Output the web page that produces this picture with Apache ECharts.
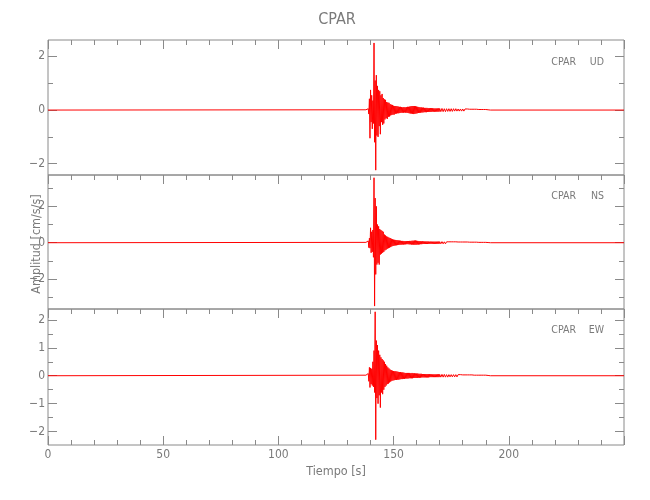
<!DOCTYPE html>
<html>
<head>
<meta charset="utf-8">
<script src="https://cdn.jsdelivr.net/npm/echarts@6/dist/echarts.min.js"></script>
<style>html,body{margin:0;padding:0;background:#fff}#c{width:650px;height:500px}</style>
</head>
<body>
<div id="c"></div>
<script>
// ---- data ----
const station = 'CPAR';
const components = ['UD', 'NS', 'EW'];
const timeStart = 0, timeEnd = 250;          // record span [s]
const burstStart = 138, burstStep = 0.25;    // strong-motion window: start, sample step [s]
const codaStart = 170.5, codaStep = 0.5;     // coda window: start, sample step [s]
const udBurst = [0.01,-0.02,0.02,-0.03,0.05,-0.15,0.42,-1.05,0.75,-0.45,
 0.55,-0.70,0.35,-0.50,2.50,-1.20,1.10,-2.24,1.30,-0.95,
 0.90,-1.00,0.75,-0.60,0.70,-0.90,0.55,-0.45,0.60,-0.55,
 0.45,-0.50,0.40,-0.35,0.38,-0.30,0.30,-0.33,0.28,-0.25,
 0.27,-0.24,0.22,-0.20,0.20,-0.18,0.19,-0.17,0.16,-0.17,
 0.15,-0.14,0.15,-0.13,0.14,-0.12,0.13,-0.12,0.12,-0.11,
 0.12,-0.10,0.11,-0.10,0.10,-0.10,0.11,-0.09,0.10,-0.10,
 0.11,-0.10,0.12,-0.11,0.12,-0.12,0.13,-0.13,0.14,-0.13,
 0.15,-0.14,0.15,-0.15,0.15,-0.14,0.14,-0.13,0.13,-0.12,
 0.12,-0.11,0.11,-0.10,0.10,-0.10,0.10,-0.09,0.09,-0.09,
 0.09,-0.08,0.08,-0.08,0.08,-0.08,0.08,-0.07,0.07,-0.07,
 0.07,-0.07,0.07,-0.07,0.07,-0.06,0.07,-0.06,0.06,-0.06,
 0.06,-0.06,0.06,-0.06,0.06,-0.06,0.06,-0.06,0.06];
const udCoda = [-0.06,0.06,-0.06,0.05,-0.06,0.05,-0.05,0.05,-0.05,0.05,
 -0.05,0.05,-0.04,0.05,-0.04,0.04,-0.04,0.04,-0.04,0.04,
 -0.04,0.04,-0.03,0.04,-0.03,0.03,-0.03,0.03,-0.03,0.03,
 -0.02,0.03,-0.02,0.02,-0.02,0.02,-0.02,0.02,-0.02,0.02,
 -0.01,0.01,-0.01,0.00];
const nsBurst = [0.02,-0.03,0.03,-0.04,0.10,-0.27,0.25,-0.30,0.82,-0.55,
 0.60,-0.50,0.70,-0.80,3.57,-3.48,2.45,-1.74,2.00,-1.20,
 1.00,-1.10,0.90,-1.20,0.75,-0.65,0.70,-0.60,0.65,-0.55,
 0.60,-0.50,0.45,-0.42,0.40,-0.38,0.35,-0.33,0.32,-0.30,
 0.28,-0.27,0.26,-0.24,0.22,-0.20,0.19,-0.18,0.17,-0.16,
 0.16,-0.15,0.15,-0.14,0.14,-0.13,0.13,-0.12,0.12,-0.11,
 0.11,-0.11,0.10,-0.10,0.10,-0.10,0.09,-0.09,0.09,-0.09,
 0.09,-0.08,0.09,-0.08,0.09,-0.09,0.10,-0.09,0.10,-0.10,
 0.11,-0.10,0.11,-0.11,0.12,-0.11,0.12,-0.11,0.11,-0.10,
 0.10,-0.10,0.09,-0.09,0.09,-0.08,0.08,-0.08,0.08,-0.07,
 0.07,-0.07,0.07,-0.07,0.07,-0.07,0.07,-0.07,0.07,-0.06,
 0.06,-0.06,0.06,-0.06,0.06,-0.06,0.06,-0.06,0.06,-0.06,
 0.06,-0.06,0.06,-0.06,0.06,-0.06,0.06,-0.06,0.06];
const nsCoda = [-0.06,0.06,-0.06,0.05,-0.06,0.05,-0.05,0.05,-0.05,0.05,
 -0.05,0.05,-0.04,0.05,-0.04,0.04,-0.04,0.04,-0.04,0.04,
 -0.04,0.04,-0.03,0.04,-0.03,0.03,-0.03,0.03,-0.03,0.03,
 -0.02,0.03,-0.02,0.02,-0.02,0.02,-0.02,0.02,-0.02,0.02,
 -0.01,0.01,-0.01,0.00];
const ewBurst = [0.02,-0.03,0.03,-0.04,0.08,-0.20,0.30,-0.42,0.28,-0.30,
 0.25,-0.35,0.50,-0.40,0.90,-0.60,2.29,-2.29,1.26,-0.80,
 1.10,-1.00,0.90,-0.70,0.75,-1.14,0.66,-0.60,0.60,-0.66,
 0.55,-0.50,0.50,-0.40,0.42,-0.35,0.36,-0.30,0.30,-0.28,
 0.26,-0.24,0.22,-0.21,0.20,-0.18,0.18,-0.17,0.17,-0.16,
 0.16,-0.15,0.16,-0.15,0.15,-0.14,0.14,-0.14,0.13,-0.13,
 0.13,-0.12,0.12,-0.12,0.12,-0.11,0.11,-0.11,0.10,-0.10,
 0.10,-0.10,0.10,-0.10,0.10,-0.09,0.10,-0.09,0.09,-0.09,
 0.10,-0.09,0.09,-0.08,0.09,-0.08,0.08,-0.08,0.08,-0.08,
 0.08,-0.07,0.07,-0.07,0.07,-0.07,0.07,-0.06,0.06,-0.06,
 0.06,-0.06,0.06,-0.06,0.06,-0.06,0.06,-0.06,0.06,-0.06,
 0.06,-0.05,0.05,-0.05,0.05,-0.05,0.05,-0.05,0.05,-0.05,
 0.05,-0.05,0.05,-0.05,0.05,-0.05,0.05,-0.05,0.05];
const ewCoda = [-0.05,0.05,-0.05,0.05,-0.05,0.04,-0.05,0.04,-0.04,0.04,
 -0.04,0.04,-0.04,0.04,-0.04,0.04,-0.03,0.04,-0.03,0.03,
 -0.03,0.03,-0.03,0.03,-0.03,0.03,-0.02,0.03,-0.02,0.02,
 -0.02,0.02,-0.02,0.02,-0.02,0.02,-0.02,0.02,-0.01,0.02,
 -0.01,0.01,-0.01,0.00];
const yRanges = [[-2.42, 2.61], [-3.64, 3.72], [-2.48, 2.39]];
const yMajor = [[-2, 0, 2], [-2, 0, 2], [-2, -1, 0, 1, 2]];
const yMinor = [[-1, 1], [-3, -1, 1, 3], [-1.5, -0.5, 0.5, 1.5]];
const yTitle = 'Amplitud [cm/s/s]';
const xTitle = 'Tiempo [s]';

// ---- chart ----
const GRAY = '#8a8a8a', TXT = '#7a7a7a';
const FONT = "'DejaVu Sans Condensed','Liberation Sans Narrow','Liberation Sans',sans-serif";
const traces = [[udBurst, udCoda], [nsBurst, nsCoda], [ewBurst, ewCoda]];
function trace(burst, coda) {
  const d = [[timeStart, 0]];
  burst.forEach((v, i) => d.push([burstStart + i * burstStep, v]));
  coda.forEach((v, i) => d.push([codaStart + i * codaStep, v]));
  d.push([timeEnd, 0]);
  return d;
}
const panels = [{top: 40, height: 135}, {top: 175, height: 134}, {top: 309, height: 136}];
const grid = panels.map(p => ({left: 48, right: 26, top: p.top, height: p.height,
  show: true, borderColor: GRAY, borderWidth: 1, backgroundColor: 'transparent'}));
const fmt = v => String(v).replace('-', '\u2212');
const xAxis = [], yAxis = [], series = [];
function xa(g, pos, labels) {
  return {gridIndex: g, type: 'value', position: pos, min: timeStart, max: timeEnd, interval: 50,
    axisLine: {show: false, onZero: false},
    axisTick: {show: true, inside: true, length: 9, lineStyle: {color: GRAY}},
    minorTick: {show: true, splitNumber: 5, length: 5, lineStyle: {color: GRAY}},
    splitLine: {show: false}, minorSplitLine: {show: false},
    axisLabel: {show: labels, showMaxLabel: false, margin: 4, color: TXT, fontSize: 12, fontFamily: FONT}};
}
function ya(g, pos, ticks, len, labels) {
  return {gridIndex: g, type: 'value', position: pos, min: yRanges[g][0], max: yRanges[g][1],
    axisLine: {show: false, onZero: false}, splitLine: {show: false},
    axisTick: {show: true, inside: true, length: len, customValues: ticks, lineStyle: {color: GRAY}},
    axisLabel: {show: labels, customValues: ticks, margin: 3, color: TXT, fontSize: 12, fontFamily: FONT, formatter: fmt}};
}
for (let g = 0; g < 3; g++) {
  xAxis.push(xa(g, 'top', false));
  yAxis.push(ya(g, 'left', yMajor[g], 9, true));
  yAxis.push(ya(g, 'left', yMinor[g], 5, false));
  yAxis.push(ya(g, 'right', yMajor[g], 9, false));
  yAxis.push(ya(g, 'right', yMinor[g], 5, false));
}
xAxis.push(xa(2, 'bottom', true));
for (let g = 0; g < 3; g++) {
  series.push({type: 'line', xAxisIndex: g === 2 ? 3 : g, yAxisIndex: g * 4, data: trace(traces[g][0], traces[g][1]),
    symbol: 'none', showSymbol: false, clip: false, lineStyle: {color: '#ff0000', width: 1.0}});
}
const graphic = [
  {type: 'text', x: 337, y: 20, style: {text: station, fill: TXT, fontSize: 16, fontFamily: FONT, align: 'center', verticalAlign: 'middle'}},
  {type: 'text', x: 37, y: 244, rotation: Math.PI / 2, style: {text: yTitle, fill: TXT, fontSize: 12.5, fontFamily: FONT, align: 'center', verticalAlign: 'middle'}},
  {type: 'text', x: 336, y: 472, style: {text: xTitle, fill: TXT, fontSize: 12.5, fontFamily: FONT, align: 'center', verticalAlign: 'middle'}}
];
const labelY = [62, 196, 330];
components.forEach((c, i) => {
  graphic.push({type: 'text', x: 576, y: labelY[i],
    style: {text: station, fill: TXT, fontSize: 10.5, fontFamily: FONT, align: 'right', verticalAlign: 'middle'}});
  graphic.push({type: 'text', x: 604, y: labelY[i],
    style: {text: c, fill: TXT, fontSize: 10.5, fontFamily: FONT, align: 'right', verticalAlign: 'middle'}});
});

const chart = echarts.init(document.getElementById('c'), null, {renderer: 'canvas'});
chart.setOption({animation: false, grid, xAxis, yAxis, series, graphic});
</script>
</body>
</html>
